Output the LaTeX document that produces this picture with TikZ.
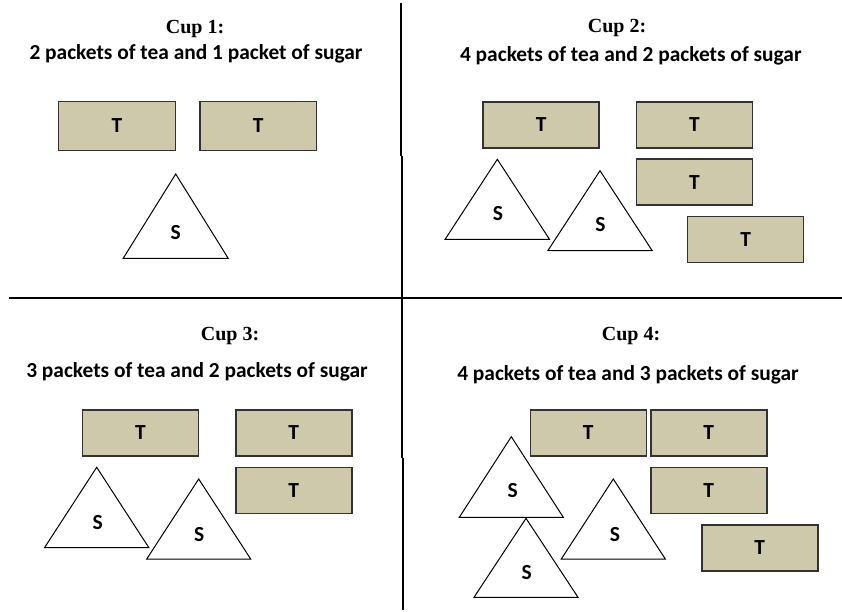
\documentclass[tikz,border=0pt]{standalone}
\usepackage{fontspec}
\setmainfont{Carlito}
\newfontfamily\titlefont{Liberation Serif}
\definecolor{teacol}{RGB}{207,201,171}
\definecolor{edgecol}{RGB}{50,50,50}
\tikzset{
  teabox/.style={draw=edgecol, line width=1.5pt, fill=teacol, minimum width=116pt, minimum height=46pt, inner sep=0pt, font=\bfseries\fontsize{21.5}{22}\selectfont},
  sugartri/.style={draw=black, line width=1pt, fill=white, line join=miter},
  slabel/.style={inner sep=0pt, font=\bfseries\fontsize{21.5}{22}\selectfont},
  cuptitle/.style={anchor=base, inner sep=0pt, font=\titlefont\bfseries\fontsize{20}{21}\selectfont},
  cupsub/.style={anchor=base, inner sep=0pt, font=\bfseries\fontsize{21.4}{22}\selectfont},
  divider/.style={draw=black, line width=2pt}
}
\newcommand{\sugar}[6]{%
  \coordinate (#1-a) at (#2,#3);
  \coordinate (#1-l) at ({#2-#4},{#3+#5});
  \coordinate (#1-r) at ({#2+#4},{#3+#5});
  \draw[sugartri] (#1-a) -- (#1-r) -- (#1-l) -- cycle;
  \node[slabel] (#1) at #6 {S};
}
\begin{document}
\begin{tikzpicture}[x=1pt,y=-1pt]
\useasboundingbox (0,0) rectangle (842,612);
% dividers
\coordinate (h1) at (9,297.7);
\coordinate (h2) at (842,297.7);
\coordinate (v1) at (401,3);
\coordinate (v2) at (401,156);
\coordinate (v3) at (402.2,156);
\coordinate (v4) at (402.2,458);
\coordinate (v5) at (403.3,458);
\coordinate (v6) at (403.3,610);
\draw[divider] (h1) -- (h2);
\draw[divider] (v1) -- (v2);
\draw[divider] (v3) -- (v4);
\draw[divider] (v5) -- (v6);

% Cup 1
\node[cuptitle] (t1) at (195,33.3) {Cup 1:};
\node[cupsub] (s1) at (196,60) {2 packets of tea and 1 packet of sugar};
\node[teabox, minimum width=116.6pt, minimum height=48.6pt] (c1a) at (117,126) {T};
\node[teabox, minimum width=116.6pt, minimum height=48.6pt] (c1b) at (258.3,126) {T};
\sugar{c1s}{175.7}{174}{52.5}{84.3}{(175.7,233)}

% Cup 2
\node[cuptitle] (t2) at (617,32.5) {Cup 2:};
\node[cupsub] (s2) at (630.8,61.5) {4 packets of tea and 2 packets of sugar};
\node[teabox] (c2a) at (541.2,125) {T};
\node[teabox] (c2b) at (694.5,125) {T};
\node[teabox] (c2c) at (694.5,182.2) {T};
\node[teabox] (c2d) at (745.7,239.7) {T};
\sugar{c2s1}{497.3}{159.3}{52.2}{80}{(498,213.3)}
\sugar{c2s2}{600}{170.7}{52.2}{80}{(600.5,225)}

% Cup 3
\node[cuptitle] (t3) at (230,340) {Cup 3:};
\node[cupsub] (s3) at (197,377.3) {3 packets of tea and 2 packets of sugar};
\node[teabox] (c3a) at (140.5,433) {T};
\node[teabox] (c3b) at (293.8,433) {T};
\node[teabox] (c3c) at (293.8,490.3) {T};
\sugar{c3s1}{96.7}{467.3}{52.2}{80.4}{(97.7,522.7)}
\sugar{c3s2}{198.7}{479}{52}{80}{(199.3,535)}

% Cup 4
\node[cuptitle] (t4) at (631,340) {Cup 4:};
\node[cupsub] (s4) at (628,380) {4 packets of tea and 3 packets of sugar};
\node[teabox] (c4a) at (588.3,432.8) {T};
\node[teabox] (c4b) at (708.8,432.8) {T};
\node[teabox] (c4c) at (708.8,490.3) {T};
\node[teabox] (c4d) at (759.8,547.8) {T};
\sugar{c4s1}{511.3}{436.7}{52}{80.6}{(512.7,490.7)}
\sugar{c4s2}{526}{518.3}{52}{79}{(526.7,572.7)}
\sugar{c4s3}{613.3}{479}{52}{80}{(615,535)}
\end{tikzpicture}
\end{document}
